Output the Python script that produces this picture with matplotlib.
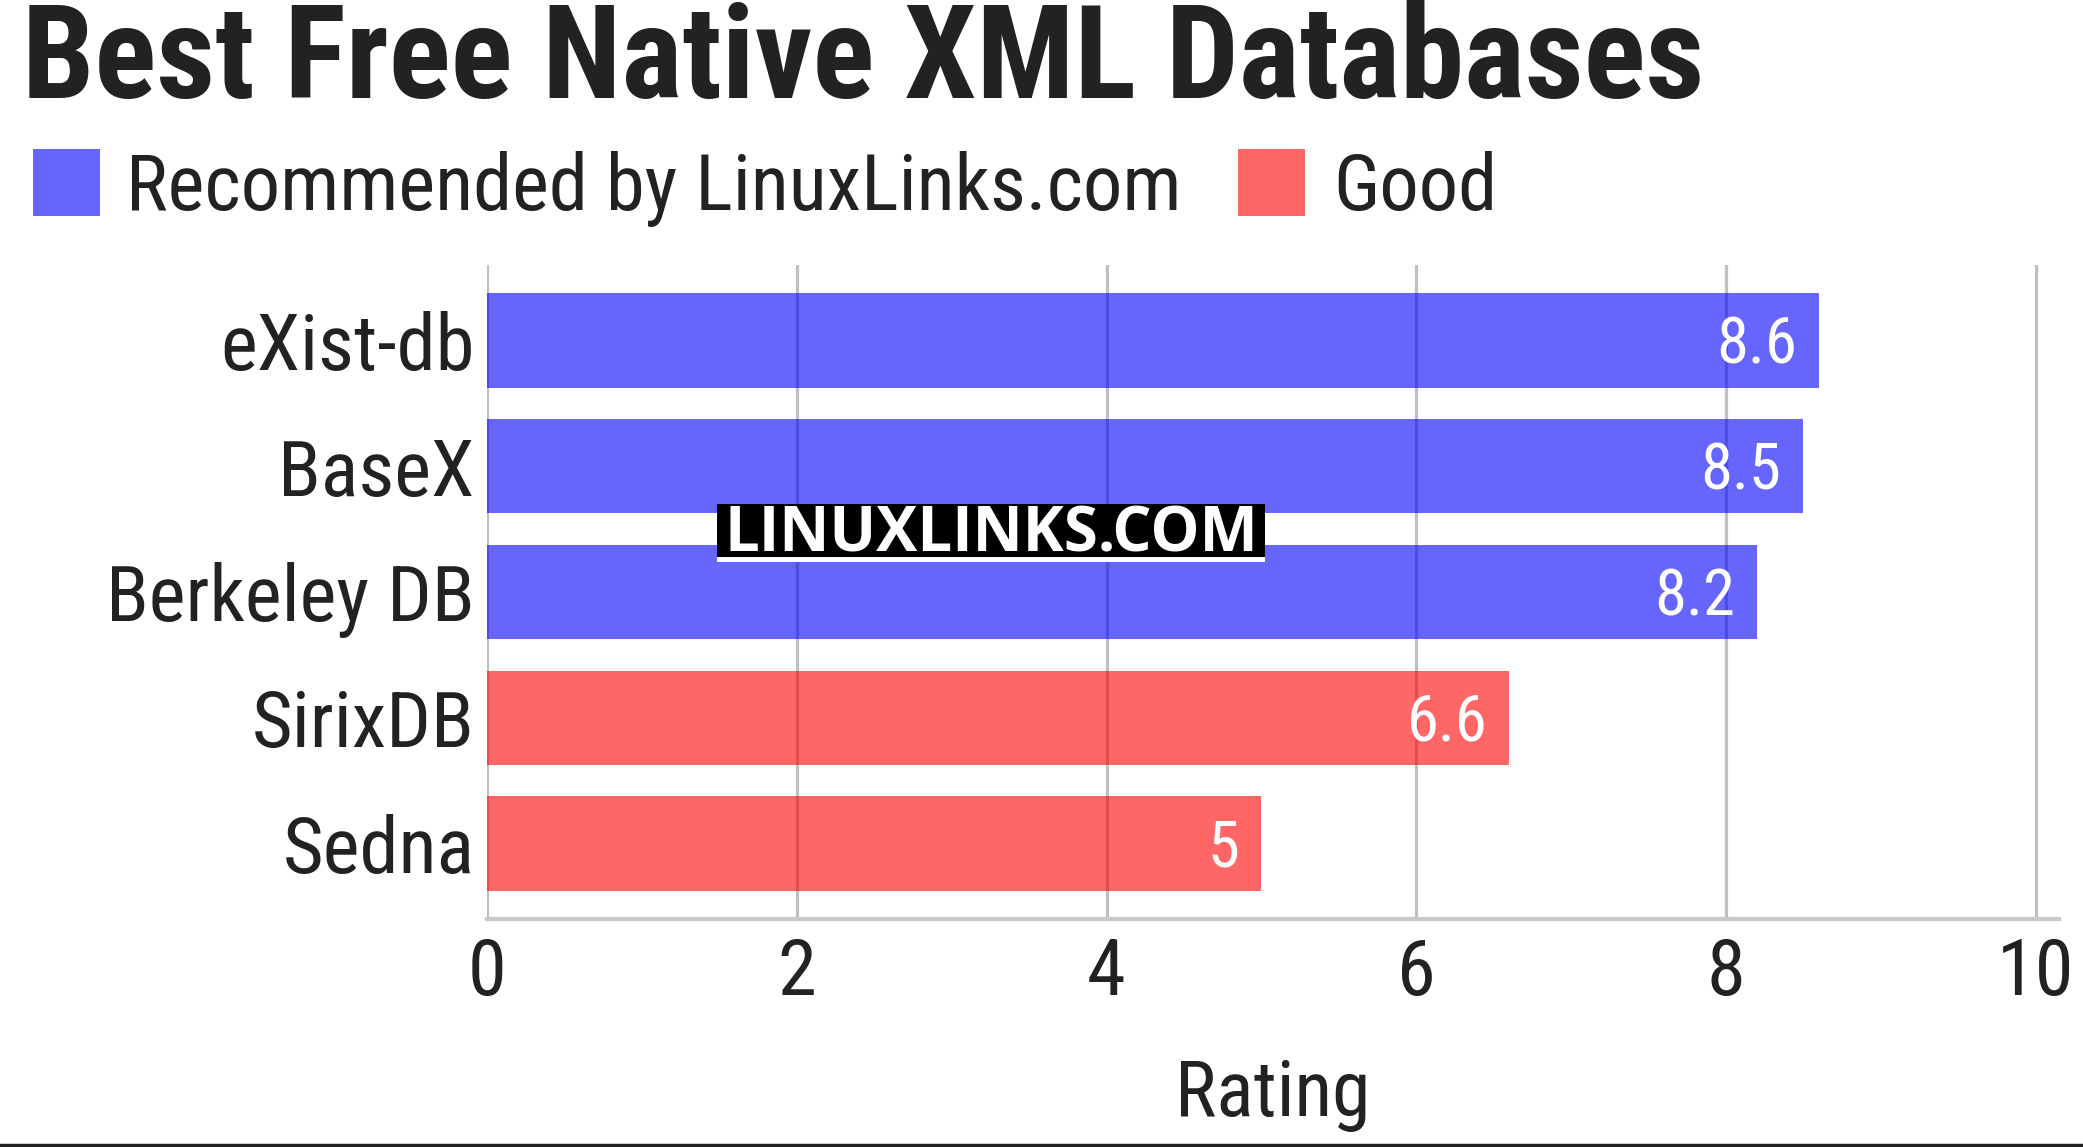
import matplotlib
matplotlib.use("Agg")
import matplotlib.pyplot as plt
from matplotlib.patches import Rectangle
from matplotlib.lines import Line2D
import warnings
warnings.filterwarnings("ignore")

# ---- data ----
title = "Best Free Native XML Databases"
categories = ["eXist-db", "BaseX", "Berkeley DB", "SirixDB", "Sedna"]
ratings = [8.6, 8.5, 8.2, 6.6, 5]
groups = ["Recommended by LinuxLinks.com", "Recommended by LinuxLinks.com",
          "Recommended by LinuxLinks.com", "Good", "Good"]
legend_labels = ["Recommended by LinuxLinks.com", "Good"]
x_ticks = [0, 2, 4, 6, 8, 10]
x_label = "Rating"
watermark = "LINUXLINKS.COM"

# ---- styles ----
W, H = 2083, 1147
FAM = ["Roboto Condensed", "Roboto", "DejaVu Sans"]
TXT = "#222222"
group_color = {"Recommended by LinuxLinks.com": "#0000ff", "Good": "#ff0000"}
legend_solid = {"Recommended by LinuxLinks.com": "#6666ff", "Good": "#ff6666"}
plt.rcParams["font.family"] = FAM

def fx(px):
    return px / W

def fy(py):
    return 1 - py / H

fig = plt.figure(figsize=(W / 100, H / 100), dpi=100)
fig.patch.set_facecolor("white")

ax_left, ax_right, ax_top, ax_bottom = 487, 2059, 265, 919
ax = fig.add_axes([fx(ax_left), fy(ax_bottom), fx(ax_right - ax_left), (ax_bottom - ax_top) / H])

ypos = list(range(len(categories)))
colors = [group_color[g] for g in groups]
ax.barh(ypos, ratings, height=0.75, color=colors, alpha=0.6, zorder=2, linewidth=0)

ax.set_xlim(0, 10.15)
ax.set_ylim(len(categories) - 0.4, -0.6)
ax.set_xticks(x_ticks)
ax.set_xticklabels([str(t) for t in x_ticks], fontsize=56.5, color=TXT)
ax.set_yticks(ypos)
ax.set_yticklabels(categories, fontsize=56.5, color=TXT)
ax.tick_params(axis="both", length=0)
ax.tick_params(axis="x", pad=12)
ax.tick_params(axis="y", pad=9)

ax.set_axisbelow(True)
ax.grid(axis="x", color="#c0c0c0", linewidth=2.3, zorder=0)
ax.grid(axis="y", visible=False)
for s in ["top", "right", "left"]:
    ax.spines[s].set_visible(False)
ax.spines["bottom"].set_color("#c8c8c8")
ax.spines["bottom"].set_linewidth(3)
ax.spines["bottom"].set_zorder(3)

for i, v in enumerate(ratings):
    ax.annotate(f"{v:g}", xy=(v, i), xytext=(-22, -23), textcoords="offset pixels",
                ha="right", va="baseline", color="white", fontsize=46.5, zorder=4)

# x label
fig.text(fx((ax_left + ax_right) / 2), fy(1116), x_label, ha="center", va="baseline",
         fontsize=56, color=TXT)

# title
fig.text(fx(22), fy(98), title, ha="left", va="baseline", fontsize=93,
         fontweight="bold", color=TXT)

# legend
leg_sq = [(33, 149), (1238, 149)]
leg_txt_x = [126, 1333]
for (sx, sy), tx, lab in zip(leg_sq, leg_txt_x, legend_labels):
    fig.patches.append(Rectangle((fx(sx), fy(sy + 67)), fx(67), 67 / H,
                                 transform=fig.transFigure, facecolor=legend_solid[lab],
                                 edgecolor="none"))
    fig.text(fx(tx), fy(210), lab, ha="left", va="baseline", fontsize=56.5, color=TXT)

# watermark
bx0, bx1, by0, by1 = 717, 1265, 504, 557
fig.patches.append(Rectangle((fx(bx0), fy(by1)), fx(bx1 - bx0), (by1 - by0) / H,
                             transform=fig.transFigure, facecolor="black",
                             edgecolor="none", zorder=5))
fig.patches.append(Rectangle((fx(bx0), fy(by1 + 5)), fx(bx1 - bx0), 5 / H,
                             transform=fig.transFigure, facecolor="white",
                             edgecolor="none", zorder=5))
fig.text(fx((bx0 + bx1) / 2), fy(552), watermark, ha="center", va="baseline",
         fontsize=44.5, fontweight="bold", color="white", zorder=6,
         family=["Open Sans", "DejaVu Sans"])

# bottom rule
fig.lines.append(Line2D([0, 1], [fy(1145), fy(1145)], transform=fig.transFigure,
                        color="#222222", linewidth=2.5))

fig.savefig("out.png", dpi=100, facecolor="white")
